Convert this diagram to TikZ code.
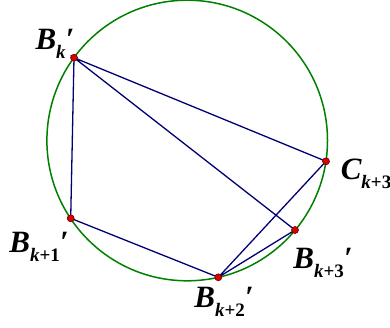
\documentclass[tikz,border=0pt]{standalone}
\usepackage{fontspec}
\setmainfont{Liberation Serif}
\newcommand{\mylbl}[2]{\bfseries\itshape #1\raisebox{-0.3em}{\fontsize{19}{19}\selectfont #2}}
\begin{document}
\begin{tikzpicture}[x=1pt,y=-1pt,
  pt/.style={circle,fill=red!85!black,draw=red!40!black,line width=0.6pt,inner sep=0pt,minimum size=7pt},
  seg/.style={draw=blue!45!black,line width=1.3pt},
  lbl/.style={font=\fontsize{31}{31}\selectfont,inner sep=0pt}]
\useasboundingbox (0,0) rectangle (390,327);
\draw[green!50!black,line width=1.5pt] (187.2,140.5) circle (140.3);
\coordinate (bk) at (74,57.7);
\coordinate (b1) at (70.7,218.3);
\coordinate (b2) at (218.3,277.3);
\coordinate (b3) at (295,230);
\coordinate (c3) at (326,161.3);
\draw[seg] (bk) -- (b1) -- (b2) -- (b3) -- (bk) -- (c3) -- (b2);
\node[pt] (pbk) at (bk) {};
\node[pt] (pb1) at (b1) {};
\node[pt] (pb2) at (b2) {};
\node[pt] (pb3) at (b3) {};
\node[pt] (pc3) at (c3) {};
\node[lbl] (lbk) at (55,44) {\mylbl{B}{\textit{k}}′};
\node[lbl] (lc3) at (366,174) {\mylbl{C}{\textit{k}\textup{+3}}};
\node[lbl] (lb1) at (39,247) {\mylbl{B}{\textit{k}\textup{+1}}′};
\node[lbl] (lb3) at (323,263) {\mylbl{B}{\textit{k}\textup{+3}}′};
\node[lbl] (lb2) at (224,302) {\mylbl{B}{\textit{k}\textup{+2}}′};
\end{tikzpicture}
\end{document}
